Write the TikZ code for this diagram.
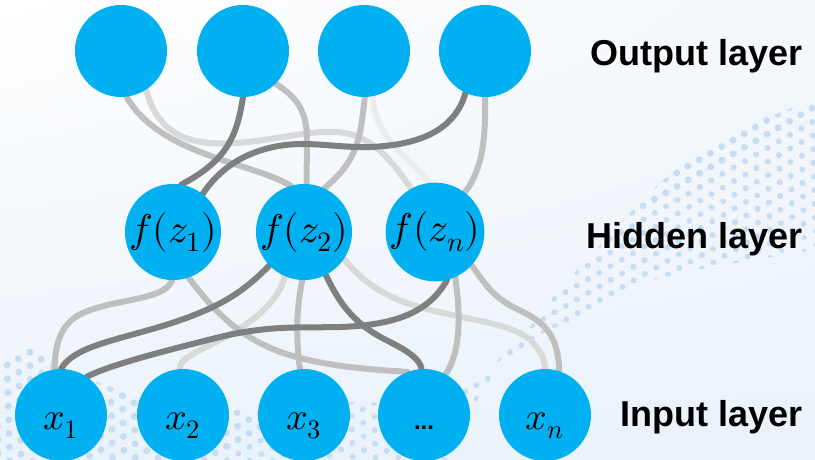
\documentclass[tikz,border=0pt]{standalone}
\usepackage{fontspec}
\usepackage{unicode-math}
\setmathfont{Latin Modern Math}
\newfontfamily\arialfont{Liberation Sans}
\usetikzlibrary{shadings}
\pgfdeclarelayer{bg}
\pgfdeclarelayer{edges}
\pgfsetlayers{bg,edges,main}
\definecolor{nodeblue}{RGB}{0,176,240}
\definecolor{edark}{RGB}{127,127,127}
\definecolor{emed}{RGB}{191,191,191}
\definecolor{elight}{RGB}{217,217,217}
\definecolor{evlight}{RGB}{236,236,236}
\definecolor{dotblue}{RGB}{198,221,243}
\definecolor{bgA}{RGB}{244,248,252}
\definecolor{bgB}{RGB}{234,242,250}
\begin{document}
\begin{tikzpicture}[x=1pt,y=-1pt,
  neuron/.style={circle,fill=nodeblue,minimum size=92pt,inner sep=0pt,font=\fontsize{40}{44}\selectfont},
  innode/.style={neuron,text height=28pt,text depth=0pt,font=\fontsize{38}{42}\selectfont},
  conn/.style={line width=6pt,line cap=round},
  dk/.style={conn,draw=edark},
  md/.style={conn,draw=emed},
  lt/.style={conn,draw=elight},
  vlt/.style={conn,draw=evlight},
  dotmark/.style={fill=dotblue},
  layerlabel/.style={anchor=base east,font=\arialfont\bfseries\fontsize{36}{40}\selectfont}]
\useasboundingbox (0,0) rectangle (815,459);

% nodes
\node[neuron] (O1) at (121,51) {};
\node[neuron] (O2) at (243,51) {};
\node[neuron] (O3) at (364,51) {};
\node[neuron] (O4) at (485,51) {};
\node[neuron] (H1) at (173,232) {$f(z_1)$};
\node[neuron] (H2) at (304,232) {$f(z_2)$};
\node[neuron] (H3) at (435,232) {$f(z_n)$};
\node[innode] (X1) at (61,415) {$x_1$};
\node[innode] (X2) at (183,415) {$x_2$};
\node[innode] (X3) at (304,415) {$x_3$};
\node[innode] (X4) at (424,415) {\arialfont\bfseries\fontsize{24}{28}\selectfont ...};
\node[innode] (X5) at (545,415) {$x_n$};

\node[layerlabel] (Lout) at (806,65) {Output layer};
\node[layerlabel] (Lhid) at (806,248) {Hidden layer};
\node[layerlabel] (Lin) at (806,426) {Input layer};

\begin{pgfonlayer}{bg}
\shade[upper left=white, upper right=bgA, lower left=bgB, lower right=bgB] (0,0) rectangle (815,459);
\begin{scope}
\clip plot[smooth] coordinates {(-10,334) (35,350) (100,383) (180,405) (250,410) (330,402) (400,402) (467,385) (520,338) (557,292) (593,253) (630,213) (667,177) (710,147) (760,120) (815,100) (830,95)} -- (830,250) -- plot[smooth] coordinates {(815,250) (707,268) (640,284) (600,303) (573,320) (540,335) (500,367) (470,413) (445,470)} -- (-10,470) -- cycle;
\begin{scope}[rotate around={30:(600,300)}]
\foreach \j in {-20,...,16}{
  \pgfmathsetmacro\off{mod(\j+40,2)*6.5}
  \pgfmathsetmacro\rad{\j<-4 ? 3.5 : (\j<4 ? 3.0 : 2.4)}
  \foreach \i in {-60,...,22}{
    \fill[dotmark] ({600+\i*13+\off},{300+\j*12}) circle (\rad pt);
  }
}
\end{scope}
\end{scope}
\end{pgfonlayer}

\begin{pgfonlayer}{edges}
% very light / light
\draw[vlt] (O3.-79) .. controls (375,135) and (400,150) .. (H3.96);
\draw[lt] (O1.-57) .. controls (158,135) and (190,146) .. (235,143) .. controls (280,140) and (315,128) .. (345,133) .. controls (375,138) and (395,165) .. (H3.119);
\draw[lt] (H2.-113) .. controls (275,310) and (240,330) .. (210,345) .. controls (190,355) and (180,360) .. (X2.94);
\draw[lt] (H2.-34) .. controls (365,285) and (390,300) .. (430,310) .. controls (480,322) and (520,325) .. (535,345) .. controls (543,355) and (545,362) .. (X5.90);
% medium
\draw[md] (O1.-83) .. controls (160,155) and (250,162) .. (H2.106);
\draw[md] (O2.-45) .. controls (298,98) and (307,112) .. (307,140) -- (H2.87);
\draw[md] (O3.-89) .. controls (360,140) and (358,160) .. (H2.65);
\draw[md] (O4.-90) .. controls (486,140) and (482,170) .. (H3.53);
\draw[md] (H1.-91) .. controls (165,300) and (120,298) .. (85,312) .. controls (60,322) and (55,345) .. (X1.98);
\draw[md] (H1.-71) .. controls (220,320) and (250,345) .. (300,358) .. controls (340,368) and (380,370) .. (X4.111);
\draw[md] (H2.-92) .. controls (296,310) and (296,340) .. (X3.95);
\draw[md] (H3.-66) .. controls (460,310) and (462,350) .. (X4.62);
\draw[md] (H3.-42) .. controls (485,285) and (495,298) .. (515,308) .. controls (540,320) and (558,330) .. (X5.72);
% dark
\draw[dk] (O2.-90) .. controls (237,135) and (228,160) .. (H1.80);
\draw[dk] (O4.-115) .. controls (455,130) and (420,145) .. (370,147) .. controls (330,148) and (300,138) .. (262,150) .. controls (235,158) and (215,175) .. (H1.52);
\draw[dk] (H2.-136) .. controls (245,290) and (225,305) .. (175,322) .. controls (120,340) and (75,345) .. (X1.90);
\draw[dk] (H2.-63) .. controls (340,305) and (355,325) .. (390,342) .. controls (410,352) and (420,360) .. (X4.93);
\draw[dk] (H3.-76) .. controls (430,310) and (400,325) .. (340,327) .. controls (300,328) and (270,325) .. (220,337) .. controls (160,352) and (110,365) .. (X1.56);
\end{pgfonlayer}
\end{tikzpicture}
\end{document}
